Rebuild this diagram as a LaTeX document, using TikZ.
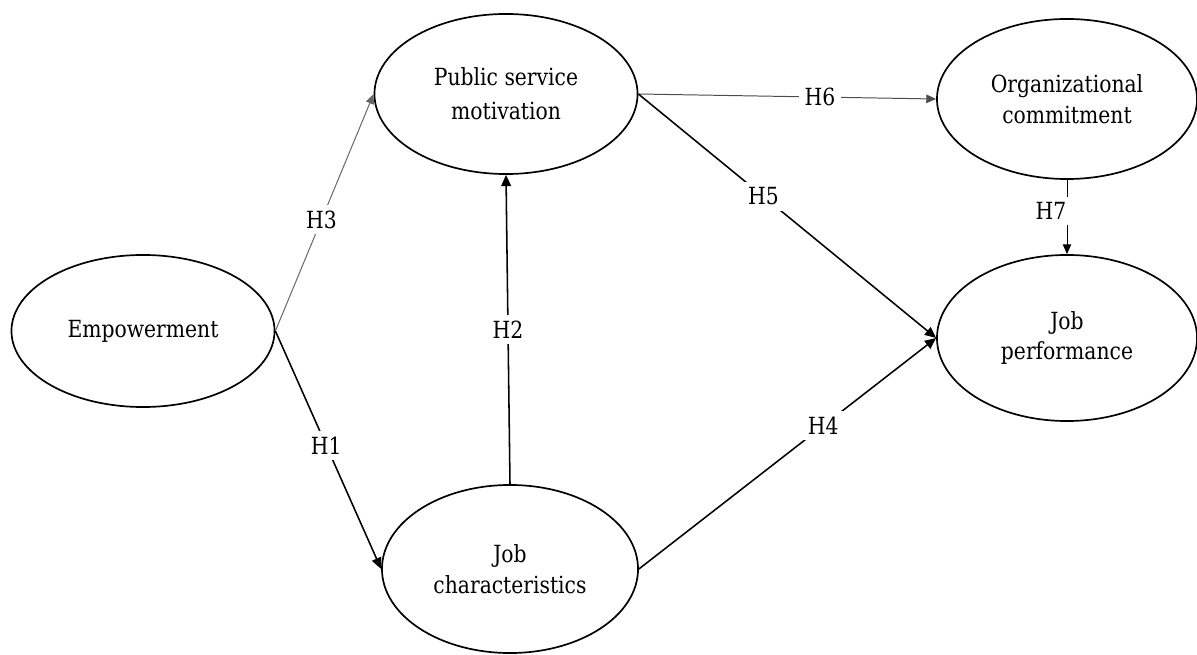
\documentclass[tikz,border=0pt]{standalone}
\usepackage{fontspec}
\setmainfont{DejaVu Serif}[FakeStretch=0.86]
\usepackage{tikz}
\usetikzlibrary{shapes.geometric}
\usetikzlibrary{arrows.meta}
\usetikzlibrary{positioning}

\begin{document}
\begin{tikzpicture}[x=0.025cm, y=-0.025cm,
  every node/.style={font=\fontsize{16.8}{22}\selectfont, align=center},
  construct/.style={ellipse, draw, line width=1.2pt, inner sep=0pt},
  lab/.style={fill=white, inner sep=4pt},
  arr/.style={-{Triangle[length=8pt,width=7pt]}, line width=1.1pt},
  thinarr/.style={-{Triangle[length=7pt,width=6pt]}, line width=0.7pt}]

\useasboundingbox (0,0) rectangle (1197,655);

\node[construct, minimum width=6.575cm, minimum height=3.8cm] (emp) at (143,331) {Empowerment};
\node[construct, minimum width=6.575cm, minimum height=4cm, font=\fontsize{16.8}{24}\selectfont] (psm) at (506,94) {Public service\\motivation};
\node[construct, minimum width=6.4cm, minimum height=4.2cm] (jc) at (510,569) {Job\\characteristics};
\node[construct, minimum width=6.5cm, minimum height=4cm] (oc) at (1067,99) {Organizational\\commitment};
\node[construct, minimum width=6.5cm, minimum height=4.15cm] (jp) at (1067,338) {Job\\performance};

\path[thinarr, draw=black!60] (emp.east) -- node[lab, pos=0.47] (h3) {H3} (psm.west);
\path[arr, draw] (emp.east) -- node[lab, pos=0.48] (h1) {H1} (jc.west);
\path[arr, draw] (jc.north) -- node[lab, pos=0.5] (h2) {H2} (psm.south);
\path[thinarr, draw=black!70] (psm.east) -- node[lab, pos=0.61] (h6) {H6} (oc.west);
\path[arr, draw] (psm.east) -- node[lab, pos=0.42] (h5) {H5} (jp.west);
\path[arr, draw] (jc.east) -- node[lab, pos=0.62] (h4) {H4} (jp.west);
\path[thinarr, draw] (oc.south) -- node[lab, pos=0.42, xshift=-0.4cm] (h7) {H7} (jp.north);
\end{tikzpicture}
\end{document}
